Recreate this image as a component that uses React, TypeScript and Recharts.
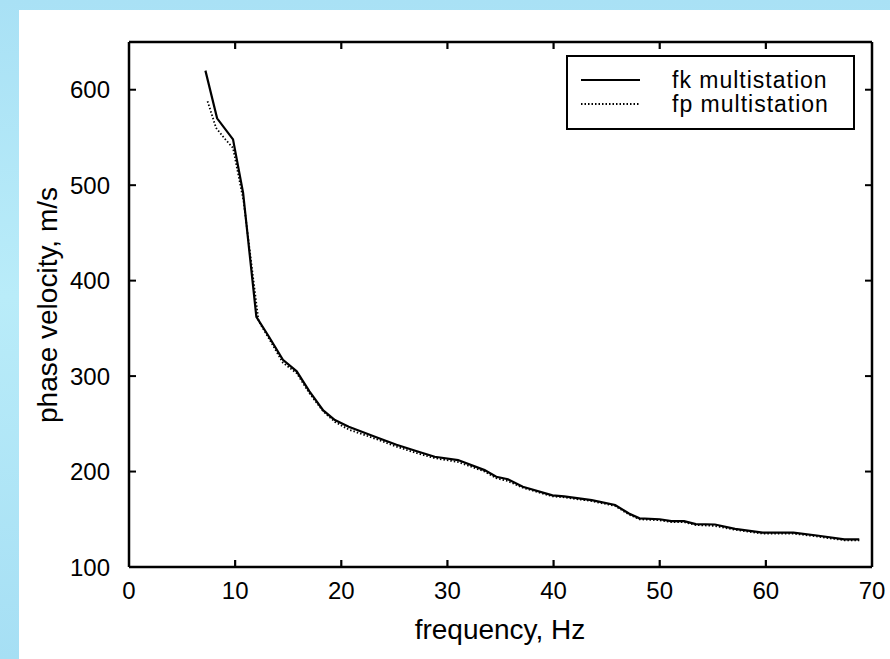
import { LineChart, Line, XAxis, YAxis, Legend, Label } from 'recharts'

// frequency (Hz) / phase velocity (m/s)
const fkFreq = [7.2, 8.3, 9.8, 10.75, 12.0, 13.2, 14.5, 15.8, 17.0, 18.3, 19.4, 20.7, 23.3, 25.2, 27.2, 28.8, 31.0, 33.5, 34.6, 35.7, 37.1, 39.9, 41.0, 43.6, 45.8, 47.1, 48.1, 50.0, 51.1, 52.3, 53.4, 55.2, 57.1, 59.7, 62.6, 64.8, 67.4, 68.8]
const fkVel = [620, 570, 548, 492, 362, 341, 317, 305, 284, 264, 254, 247, 236, 228, 221, 215.5, 212, 201.5, 194.5, 192, 184, 175, 174, 170, 165, 156, 151, 150, 148, 148, 145, 144.5, 140, 136, 136, 133, 129, 129]

const fpFreq = [7.4, 8.2, 9.0, 9.8, 10.8, 12.2, 13.2, 14.5, 15.8, 17.0, 18.3, 19.4, 20.7, 23.3, 25.2, 27.2, 28.8, 31.0, 33.5, 34.6, 35.7, 37.1, 39.9, 41.0, 43.6, 45.8, 47.1, 48.1, 50.0, 51.1, 52.3, 53.4, 55.2, 57.1, 59.7, 62.6, 64.8, 67.4, 68.8]
const fpVel = [588, 560, 549, 539, 483, 358, 339, 314, 303, 282, 263, 252, 244, 234, 226, 219, 214, 210, 200, 193, 190, 183, 174, 173, 169, 164, 155, 150, 149, 147, 147, 144, 143, 139, 135, 135, 132, 128, 128]

const xTicks = [0, 10, 20, 30, 40, 50, 60, 70]
const yTicks = [100, 200, 300, 400, 500, 600]
const xDomain = [0, 70]
const yDomain = [100, 650]

const fkData = fkFreq.map((f, i) => ({ f, v: fkVel[i] }))
const fpData = fpFreq.map((f, i) => ({ f, v: fpVel[i] }))

const W = 890
const H = 659
const MARGIN = { top: 32, right: 18, bottom: 32, left: 49 }
const TOP_AXIS_H = 10
const BOTTOM_AXIS_H = 60
const LEFT_AXIS_W = 80
const PLOT_L = MARGIN.left + LEFT_AXIS_W
const PLOT_W = W - PLOT_L - MARGIN.right
const PLOT_T = MARGIN.top + TOP_AXIS_H
const PLOT_B = H - MARGIN.bottom - BOTTOM_AXIS_H

const FONT = '"Liberation Sans", Arial, Helvetica, sans-serif'
const tickStyle = { fill: '#000', fontSize: 24, fontFamily: FONT }
const boxLine = { stroke: '#000', strokeWidth: 2.5 }
const tickMark = { stroke: '#000', strokeWidth: 2 }
const noLabel = () => <g />
const TICK_LEN = 7

const legendRows = [
  { name: 'fk multistation', dash: undefined },
  { name: 'fp multistation', dash: '1.5 2' },
]

function renderLegend() {
  return (
    <div style={{ width: 289, height: 75, border: '2.5px solid #000', boxSizing: 'border-box', background: '#fff' }}>
      <svg width={284} height={70}>
        {legendRows.map((r, i) => (
          <g key={r.name}>
            <line x1={13} x2={72} y1={23 + i * 24} y2={23 + i * 24} stroke="#000" strokeWidth={r.dash ? 1.8 : 2.2} strokeDasharray={r.dash} />
            <text x={104} y={23 + i * 24} dy="0.35em" fontSize={23} letterSpacing={1} fontFamily={FONT} fill="#000">{r.name}</text>
          </g>
        ))}
      </svg>
    </div>
  )
}

// inward x tick marks on the top and bottom edges of the box
function XTickOverlay() {
  const sx = (t: number) => PLOT_L + ((t - xDomain[0]) / (xDomain[1] - xDomain[0])) * PLOT_W
  return (
    <svg width={W} height={H} style={{ position: 'absolute', left: 0, top: 0, pointerEvents: 'none' }}>
      {xTicks.slice(1, -1).map((t) => (
        <g key={t} stroke="#000" strokeWidth={2.2}>
          <line x1={sx(t)} x2={sx(t)} y1={PLOT_B} y2={PLOT_B - TICK_LEN} />
          <line x1={sx(t)} x2={sx(t)} y1={PLOT_T} y2={PLOT_T + TICK_LEN} />
        </g>
      ))}
    </svg>
  )
}

export default function App() {
  return (
    <div style={{ position: 'absolute', left: 0, top: 0, width: W, height: H, overflow: 'hidden', background: 'linear-gradient(180deg, #a9e1f5 0%, #b9ecf9 45%, #a6dff4 100%)' }}>
      <div style={{ position: 'absolute', left: 19, top: 10, right: 0, bottom: 0, background: '#fff' }} />
      <div style={{ position: 'absolute', left: 0, top: 0 }}>
        <LineChart width={W} height={H} data={fkData} margin={MARGIN}>
          <XAxis
            xAxisId="b" type="number" dataKey="f" domain={xDomain} ticks={xTicks} allowDataOverflow
            height={BOTTOM_AXIS_H} tickSize={0} tickMargin={15} tick={tickStyle} axisLine={boxLine} tickLine={false}
          >
            <Label content={() => (
              <text x={500} y={632} textAnchor="middle" dominantBaseline="middle" fontSize={28} fontFamily={FONT} fill="#000">frequency, Hz</text>
            )} />
          </XAxis>
          <XAxis
            xAxisId="t" orientation="top" type="number" dataKey="f" domain={xDomain} ticks={xTicks} allowDataOverflow
            height={TOP_AXIS_H} tickSize={0} tick={noLabel} axisLine={boxLine} tickLine={false}
          />
          <YAxis
            yAxisId="l" type="number" domain={yDomain} ticks={yTicks} allowDataOverflow
            width={LEFT_AXIS_W} tickSize={0} tickMargin={19} tick={tickStyle} axisLine={false} tickLine={false}
          >
            <Label content={() => (
              <text x={50} y={305} textAnchor="middle" dominantBaseline="middle" transform="rotate(-90 50 305)" fontSize={28} fontFamily={FONT} fill="#000">phase velocity, m/s</text>
            )} />
          </YAxis>
          {/* box sides with inward ticks */}
          <YAxis yAxisId="lm" mirror type="number" domain={yDomain} ticks={yTicks} allowDataOverflow width={1} tickSize={TICK_LEN} tick={noLabel} axisLine={boxLine} tickLine={tickMark} />
          <YAxis yAxisId="rm" mirror orientation="right" type="number" domain={yDomain} ticks={yTicks} allowDataOverflow width={1} tickSize={TICK_LEN} tick={noLabel} axisLine={boxLine} tickLine={tickMark} />
          <Legend
            layout="vertical" verticalAlign="middle" align="center"
            wrapperStyle={{ top: 55, left: 566, width: 289, height: 75 }}
            content={renderLegend}
          />
          <Line
            xAxisId="b" yAxisId="l" data={fpData} dataKey="v" name="fp multistation" type="linear"
            stroke="#000" strokeWidth={1.8} strokeDasharray="1.5 2" dot={false} isAnimationActive={false}
          />
          <Line
            xAxisId="b" yAxisId="l" dataKey="v" name="fk multistation" type="linear"
            stroke="#000" strokeWidth={2.2} dot={false} isAnimationActive={false}
          />
        </LineChart>
        <XTickOverlay />
      </div>
    </div>
  )
}
